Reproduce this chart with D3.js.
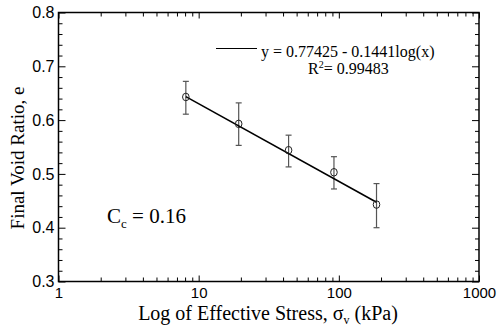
<!DOCTYPE html>
<html><head><meta charset="utf-8">
<script src="https://cdn.jsdelivr.net/npm/d3@7"></script>
<style>body{margin:0;background:#fff}svg{display:block}</style>
</head><body>
<script>
const stress = [8.1, 19.3, 43.8, 92.3, 185.7];
const voidRatio = [0.643, 0.593, 0.544, 0.503, 0.443];
const errUpper = [0.672, 0.632, 0.572, 0.532, 0.482];
const errLower = [0.611, 0.553, 0.513, 0.472, 0.400];
const fitX = [8.1, 185.7];
const fitY = [0.6437, 0.4473];
const xMajor = [1, 10, 100, 1000];
const xMajorLabels = ["1", "10", "100", "1000"];
const yMajor = [0.3, 0.4, 0.5, 0.6, 0.7, 0.8];
const yMajorLabels = ["0.3", "0.4", "0.5", "0.6", "0.7", "0.8"];

const W = 498, H = 328;
const L = 58.5, R = 479, T = 12.5, B = 281.5;
const svg = d3.select("body").append("svg").attr("width", W).attr("height", H);
const x = d3.scaleLog().domain([1, 1000]).range([L, R]);
const y = d3.scaleLinear().domain([0.3, 0.8]).range([B, T]);

const xMinor = [];
[1, 10, 100].forEach(d => { for (let k = 2; k <= 9; k++) xMinor.push(d * k); });
const yMinor = d3.range(0.32, 0.8, 0.02).filter(v => Math.abs(Math.round(v * 10) - v * 10) > 0.01);

const sans = "'Liberation Sans', Arial, sans-serif";
const serif = "'Liberation Serif', 'Times New Roman', serif";

function axisGroup(axis, tr) {
  const g = svg.append("g").attr("transform", tr).call(axis);
  g.select(".domain").remove();
  g.selectAll(".tick line").attr("stroke", "#000").attr("stroke-width", 1);
  return g;
}
// bottom
const gb = axisGroup(d3.axisBottom(x).tickValues(xMajor).tickFormat((d, i) => xMajorLabels[i]).tickSizeInner(-6).tickSizeOuter(0).tickPadding(6), `translate(0,${B})`);
gb.selectAll("text").attr("font-family", sans).attr("font-size", 15).attr("fill", "#000");
axisGroup(d3.axisBottom(x).tickValues(xMinor).tickFormat("").tickSizeInner(-4).tickSizeOuter(0), `translate(0,${B})`);
// top
axisGroup(d3.axisTop(x).tickValues(xMajor).tickFormat("").tickSizeInner(-6).tickSizeOuter(0), `translate(0,${T})`);
axisGroup(d3.axisTop(x).tickValues(xMinor).tickFormat("").tickSizeInner(-4).tickSizeOuter(0), `translate(0,${T})`);
// left
const gl = axisGroup(d3.axisLeft(y).tickValues(yMajor).tickFormat((d, i) => yMajorLabels[i]).tickSizeInner(-7).tickSizeOuter(0).tickPadding(4), `translate(${L},0)`);
gl.selectAll("text").attr("font-family", sans).attr("font-size", 16).attr("fill", "#000");
axisGroup(d3.axisLeft(y).tickValues(yMinor).tickFormat("").tickSizeInner(-4).tickSizeOuter(0), `translate(${L},0)`);
// right
axisGroup(d3.axisRight(y).tickValues(yMajor).tickFormat("").tickSizeInner(-7).tickSizeOuter(0), `translate(${R},0)`);
axisGroup(d3.axisRight(y).tickValues(yMinor).tickFormat("").tickSizeInner(-4).tickSizeOuter(0), `translate(${R},0)`);

svg.append("rect").attr("x", L).attr("y", T).attr("width", R - L).attr("height", B - T)
  .attr("fill", "none").attr("stroke", "#000").attr("stroke-width", 1.5);

// error bars
const eb = svg.append("g").attr("stroke", "#555").attr("stroke-width", 1.2);
stress.forEach((s, i) => {
  const cx = x(s);
  eb.append("line").attr("x1", cx).attr("x2", cx).attr("y1", y(errUpper[i])).attr("y2", y(errLower[i]));
  eb.append("line").attr("x1", cx - 3).attr("x2", cx + 3).attr("y1", y(errUpper[i])).attr("y2", y(errUpper[i]));
  eb.append("line").attr("x1", cx - 3).attr("x2", cx + 3).attr("y1", y(errLower[i])).attr("y2", y(errLower[i]));
});
// fit line
svg.append("path").datum(fitX.map((v, i) => [v, fitY[i]]))
  .attr("d", d3.line().x(d => x(d[0])).y(d => y(d[1])))
  .attr("stroke", "#000").attr("stroke-width", 1.6).attr("fill", "none");
// markers
svg.append("g").selectAll("ellipse").data(stress).join("ellipse")
  .attr("cx", d => x(d)).attr("cy", (d, i) => y(voidRatio[i]))
  .attr("rx", 3.3).attr("ry", 3.8).attr("fill", "none").attr("stroke", "#222").attr("stroke-width", 1);

// legend
svg.append("line").attr("x1", 216).attr("x2", 257).attr("y1", 48.5).attr("y2", 48.5).attr("stroke", "#000").attr("stroke-width", 1.2);
svg.append("text").attr("x", 261).attr("y", 57).attr("font-family", serif).attr("font-size", 16)
  .text("y = 0.77425 - 0.1441log(x)");
const r2 = svg.append("text").attr("x", 308).attr("y", 74).attr("font-family", serif).attr("font-size", 16);
r2.append("tspan").text("R");
r2.append("tspan").attr("font-size", 10).attr("dy", -6).text("2");
r2.append("tspan").attr("dy", 6).text("= 0.99483");

// Cc
const cc = svg.append("text").attr("x", 107).attr("y", 223).attr("font-family", serif).attr("font-size", 21);
cc.append("tspan").text("C");
cc.append("tspan").attr("font-size", 13).attr("dy", 5).text("c");
cc.append("tspan").attr("dy", -5).text(" = 0.16");

// axis titles
const xt = svg.append("text").attr("x", 268).attr("y", 320).attr("text-anchor", "middle")
  .attr("font-family", serif).attr("font-size", 20);
xt.append("tspan").text("Log of Effective Stress, σ");
xt.append("tspan").attr("font-size", 12).attr("dy", 4).text("v");
xt.append("tspan").attr("dy", -4).text(" (kPa)");
svg.append("text").attr("transform", "translate(24,158) rotate(-90)").attr("text-anchor", "middle")
  .attr("font-family", serif).attr("font-size", 19).text("Final Void Ratio, e");
</script>
</body></html>
